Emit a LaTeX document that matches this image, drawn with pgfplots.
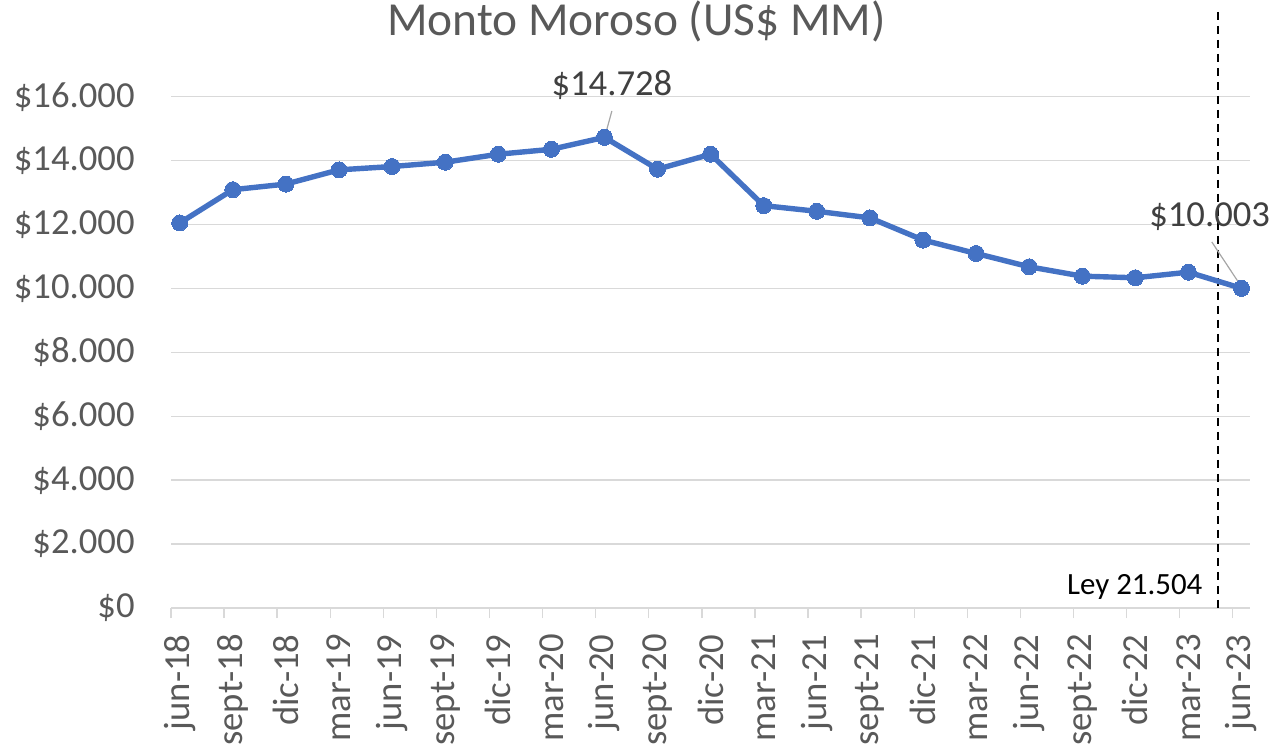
\documentclass[border=0pt]{standalone}
\usepackage{pgfplots}
\pgfplotsset{compat=1.18}
\usepackage{fontspec}
\setmainfont{Carlito}
\definecolor{linec}{HTML}{4472C4}
\definecolor{gridc}{HTML}{D9D9D9}
\definecolor{tickc}{HTML}{595959}
\definecolor{labc}{HTML}{404040}
\begin{document}
\begin{tikzpicture}
\useasboundingbox (0,0) rectangle (638bp,375bp);
\begin{axis}[
  at={(85.5bp,71bp)}, anchor=south west,
  scale only axis, width=539.5bp, height=255.65bp,
  xmin=-0.165, xmax=20.16, ymin=0, ymax=16000,
  axis x line*=bottom, axis y line*=left,
  y axis line style={draw=none},
  x axis line style={draw=gridc, line width=0.7bp},
  ytick={0,2000,...,16000},
  ymajorgrids, grid style={gridc, line width=0.7bp},
  xtick={0,...,20},
  xticklabels={jun-18,sept-18,dic-18,mar-19,jun-19,sept-19,dic-19,mar-20,jun-20,sept-20,dic-20,mar-21,jun-21,sept-21,dic-21,mar-22,jun-22,sept-22,dic-22,mar-23,jun-23},
  major tick length=0pt,
  minor xtick={-0.165,0.835,1.835,2.835,3.835,4.835,5.835,6.835,7.835,8.835,9.835,10.835,11.835,12.835,13.835,14.835,15.835,16.835,17.835,18.835,19.835},
  minor tick length=5bp, tick align=outside,
  minor tick style={draw=gridc, line width=0.7bp},
  scaled y ticks=false,
  /pgf/number format/assume math mode=true,
  yticklabel style={/pgf/number format/fixed, /pgf/number format/1000 sep={.}, anchor=east, inner sep=0pt, xshift=-18bp},
  yticklabel={\$\pgfmathprintnumber{\tick}},
  ticklabel style={font=\fontsize{18.4}{22}\selectfont, text=tickc},
  xticklabel style={inner sep=0pt, yshift=-13bp, rotate=90, anchor=east},
  title={Monto Moroso (US\$ MM)},
  title style={at={(axis description cs:0.4314,1.1246)}, anchor=center, font=\fontsize{23.8}{28}\selectfont, text=tickc},
  clip=false,
]
\addplot[black, line width=1bp, dash pattern=on 4.3bp off 2.7bp] coordinates {(19.56,18654) (19.56,0)};
\addplot[linec, line width=2.7bp, mark=*, mark size=4bp, mark options={fill=linec, draw=linec, line width=0bp}] coordinates {
(0,12050) (1,13090) (2,13266) (3,13711) (4,13815) (5,13950) (6,14200) (7,14354) (8,14728)
(9,13732) (10,14199) (11,12591) (12,12414) (13,12208) (14,11515) (15,11094) (16,10678)
(17,10384) (18,10334) (19,10509) (20,10003)};
\node[anchor=center, font=\fontsize{18.4}{22}\selectfont, text=labc] at (axis cs:8.14,16370) {\$14.728};
\draw[gray!70, line width=0.6bp] (axis cs:8.14,15555) -- (axis cs:8.04,14950);
\node[anchor=center, font=\fontsize{18.4}{22}\selectfont, text=labc] at (axis cs:19.40,12240) {\$10.003};
\draw[gray!70, line width=0.6bp] (axis cs:19.44,11455) -- (axis cs:19.98,10100);
\node[anchor=east, inner sep=0pt, font=\fontsize{15.5}{18}\selectfont, text=black] at (axis cs:19.27,657) {Ley 21.504};
\end{axis}
\end{tikzpicture}
\end{document}
